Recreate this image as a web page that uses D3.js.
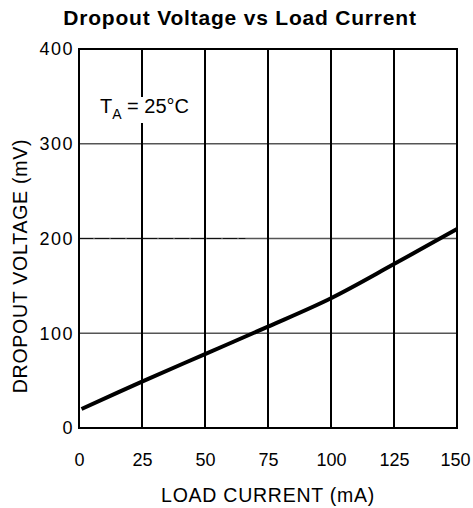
<!DOCTYPE html>
<html><head><meta charset="utf-8">
<script src="https://cdn.jsdelivr.net/npm/d3@7"></script>
<style>body{margin:0;background:#fff;} text{font-family:"Liberation Sans",Arial,sans-serif;}</style>
</head><body><svg id="c" width="473" height="508"></svg>
<script>
const xTicks = [0, 25, 50, 75, 100, 125, 150];
const yTicks = [0, 100, 200, 300, 400];
const current = [1, 25, 50, 75, 100, 125, 150];
const dropout = [20, 49, 78, 107, 137, 173, 210];

const svg = d3.select("#c");
const L = 79, R = 457, T = 49, B = 428;
const x = d3.scaleLinear().domain([0,150]).range([L,R]);
const y = d3.scaleLinear().domain([0,400]).range([B,T]);

svg.append("rect").attr("width",473).attr("height",508).attr("fill","#fff");

// horizontal grid
svg.append("g").selectAll("line").data(yTicks.slice(1,-1)).join("line")
  .attr("x1",L).attr("x2",R).attr("y1",d=>y(d)).attr("y2",d=>y(d))
  .attr("stroke","#555").attr("stroke-width",1.3);
// darker segment on 200 line
svg.append("line").attr("x1",x(0)).attr("x2",x(66)).attr("y1",y(200)).attr("y2",y(200))
  .attr("stroke","#111").attr("stroke-width",1).attr("stroke-dasharray","14,2");
// vertical grid
svg.append("g").selectAll("line").data(xTicks.slice(1,-1)).join("line")
  .attr("y1",T).attr("y2",B).attr("x1",d=>x(d)).attr("x2",d=>x(d))
  .attr("stroke","#000").attr("stroke-width",2);

// label with white background
svg.append("rect").attr("x",97).attr("y",97).attr("width",100).attr("height",26).attr("fill","#fff");
const lab = svg.append("text").attr("x",100).attr("y",113).attr("font-size",20).attr("fill","#000");
lab.append("tspan").text("T");
lab.append("tspan").attr("dy",6).attr("font-size",14).text("A");
lab.append("tspan").attr("dy",-6).text(" = 25°C");

// frame
svg.append("rect").attr("x",L).attr("y",T).attr("width",R-L).attr("height",B-T)
  .attr("fill","none").attr("stroke","#000").attr("stroke-width",2);

// axes
const xa = svg.append("g").attr("transform",`translate(0,${B})`)
  .call(d3.axisBottom(x).tickValues(xTicks).tickSize(0).tickPadding(25));
xa.select(".domain").remove();
xa.selectAll("text").attr("font-size",18).attr("fill","#000")
  .style("font-family","Liberation Sans, Arial, sans-serif");
xa.selectAll(".tick").filter(d=>d===150).select("text").attr("dx",-2);
const ya = svg.append("g").attr("transform",`translate(${L},0)`)
  .call(d3.axisLeft(y).tickValues(yTicks).tickSize(0).tickPadding(5));
ya.select(".domain").remove();
ya.selectAll("text").attr("font-size",18).attr("fill","#000")
  .style("letter-spacing","1.5px").style("font-family","Liberation Sans, Arial, sans-serif");

// curve
svg.append("path").datum(current.map((c,i)=>[c,dropout[i]]))
  .attr("d", d3.line().x(d=>x(d[0])).y(d=>y(d[1])).curve(d3.curveCatmullRom))
  .attr("fill","none").attr("stroke","#000").attr("stroke-width",4);

// titles
svg.append("text").attr("x",240).attr("y",25).attr("text-anchor","middle")
  .attr("font-size",21).attr("font-weight","bold").style("letter-spacing","0.8px")
  .text("Dropout Voltage vs Load Current");
svg.append("text").attr("x",268).attr("y",502).attr("text-anchor","middle")
  .attr("font-size",19.5).style("letter-spacing","0.75px").text("LOAD CURRENT (mA)");
svg.append("text").attr("transform","translate(27,266) rotate(-90)").attr("text-anchor","middle")
  .attr("font-size",19.5).style("letter-spacing","0.75px").text("DROPOUT VOLTAGE (mV)");
</script></body></html>
